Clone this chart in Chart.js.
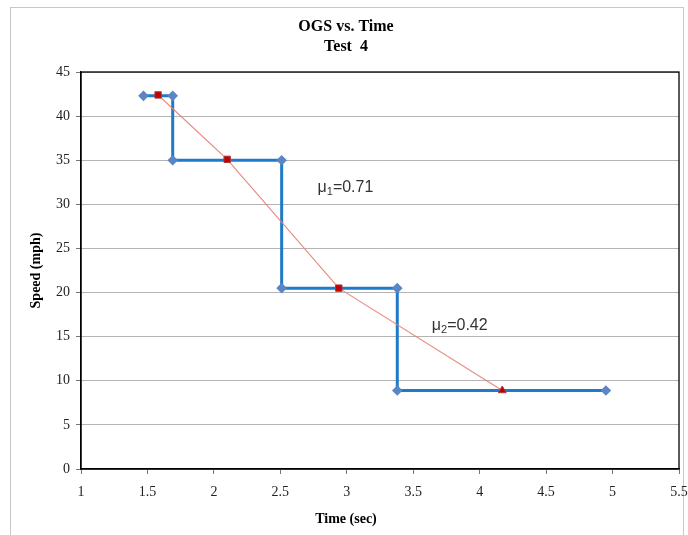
<!DOCTYPE html>
<html>
<head>
<meta charset="utf-8">
<title>OGS vs. Time</title>
<script src="https://cdn.jsdelivr.net/npm/chart.js@4.4.1/dist/chart.umd.min.js"></script>
<style>
  html, body { margin: 0; padding: 0; background: #fff; }
  #wrap { width: 688px; height: 535px; position: relative; }
</style>
</head>
<body>
<div id="wrap"><canvas id="ogsChart" width="688" height="535"></canvas></div>
<script>
// ================= DATA =================
// Stepped speed trace (blue)
const stepTime  = [1.47, 1.69, 1.69, 2.51, 2.51, 3.38, 3.38, 4.95];
const stepSpeed = [42.3, 42.3, 35.0, 35.0, 20.5, 20.5, 8.9, 8.9];
// Midpoint fit (red)
const fitTime  = [1.58, 2.10, 2.94, 4.17];
const fitSpeed = [42.4, 35.1, 20.5, 8.9];
const fitMarkers = ['rect', 'rect', 'rect', 'triangle'];
// Friction notes placed in data space
const noteText = ['0.71', '0.42'];
const noteSub  = ['1', '2'];
const noteTime = [2.78, 3.64];
const noteSpeed = [31.4, 15.8];

const titleLines = ['OGS vs. Time', 'Test  4'];
const xTitle = 'Time (sec)';
const serif = '"Liberation Serif", "Times New Roman", serif';

function toPoints(xs, ys) {
    return xs.map((x, i) => ({ x: x, y: ys[i] }));
}

// ================= PLUGINS =================
// white background, outer frame, titles, plot border and the mu notes
const decorPlugin = {
    id: 'decor',
    beforeDraw(chart) {
        const ctx = chart.ctx;
        ctx.save();
        ctx.fillStyle = '#fff';
        ctx.fillRect(0, 0, chart.width, chart.height);
        ctx.strokeStyle = '#c8c8c8';
        ctx.lineWidth = 1;
        ctx.strokeRect(10.5, 7.5, 673, 540);
        ctx.restore();
    },
    afterDatasetsDraw(chart) {
        const ctx = chart.ctx;
        const a = chart.chartArea;
        ctx.save();
        ctx.strokeStyle = '#000';
        ctx.lineWidth = 1.3;
        ctx.strokeRect(a.left, a.top, a.right - a.left, a.bottom - a.top);

        // chart title + x axis title, centred on the whole frame
        ctx.fillStyle = '#000';
        ctx.textAlign = 'center';
        ctx.textBaseline = 'alphabetic';
        ctx.font = 'bold 16px ' + serif;
        ctx.fillText(titleLines[0], 346, 31);
        ctx.fillText(titleLines[1], 346, 51);
        ctx.font = 'bold 14px ' + serif;
        ctx.fillText(xTitle, 346, 523);

        // mu annotations
        const xs = chart.scales.x, ys = chart.scales.y;
        ctx.textAlign = 'left';
        ctx.fillStyle = '#333';
        noteText.forEach((t, i) => {
            let px = xs.getPixelForValue(noteTime[i]);
            const py = ys.getPixelForValue(noteSpeed[i]);
            ctx.font = '16px "Liberation Sans", Arial, sans-serif';
            ctx.fillText('\u03bc', px, py);
            px += ctx.measureText('\u03bc').width;
            ctx.font = '11px "Liberation Sans", Arial, sans-serif';
            ctx.fillText(noteSub[i], px, py + 3);
            px += ctx.measureText(noteSub[i]).width;
            ctx.font = '16px "Liberation Sans", Arial, sans-serif';
            ctx.fillText('=' + t, px, py);
        });
        ctx.restore();
    }
};

// ================= CHART =================
function initChart() {
    const ctx = document.getElementById('ogsChart').getContext('2d');
    return new Chart(ctx, {
        type: 'scatter',
        data: {
            datasets: [
                {
                    label: 'Fit',
                    data: toPoints(fitTime, fitSpeed),
                    showLine: true,
                    borderColor: 'rgba(228, 128, 118, 0.9)',
                    borderWidth: 1.2,
                    pointStyle: fitMarkers,
                    pointRadius: 4.5,
                    pointBackgroundColor: '#c00000',
                    pointBorderColor: '#a83a3a',
                    pointBorderWidth: 1,
                    order: 0
                },
                {
                    label: 'Speed',
                    data: toPoints(stepTime, stepSpeed),
                    showLine: true,
                    borderColor: '#1f7ac9',
                    borderWidth: 3,
                    pointStyle: 'rectRot',
                    pointRadius: 3.2,
                    pointBackgroundColor: '#5b86c5',
                    pointBorderColor: '#5b86c5',
                    order: 1
                }
            ]
        },
        options: {
            responsive: false,
            animation: false,
            layout: { padding: { top: 72, right: 9, left: 28, bottom: 8 } },
            plugins: {
                legend: { display: false },
                tooltip: { enabled: false }
            },
            scales: {
                x: {
                    type: 'linear',
                    min: 1, max: 5.5,
                    afterFit: s => { s.height = 58; s.paddingLeft = 0; s.paddingRight = 0; },
                    ticks: {
                        stepSize: 0.5,
                        color: '#222',
                        padding: 10,
                        font: { family: serif, size: 14 },
                        callback: v => String(v)
                    },
                    grid: { drawOnChartArea: false, drawTicks: true, tickLength: 5, color: '#777' },
                    border: { display: true, color: '#000', width: 1.3 }
                },
                y: {
                    min: 0, max: 45,
                    afterFit: s => { s.width = 53; s.paddingTop = 0; s.paddingBottom = 0; },
                    ticks: {
                        stepSize: 5,
                        color: '#222',
                        padding: 6,
                        font: { family: serif, size: 14 }
                    },
                    grid: { color: '#b4b4b4', lineWidth: 1, drawTicks: true, tickLength: 5, tickColor: '#777' },
                    border: { display: true, color: '#000', width: 1.3 },
                    title: {
                        display: true,
                        text: 'Speed (mph)',
                        color: '#000',
                        font: { family: serif, size: 14, weight: 'bold' },
                        padding: { top: 0, bottom: 2 }
                    }
                }
            }
        },
        plugins: [decorPlugin]
    });
}

window.onload = function() {
    initChart();
};
</script>
</body>
</html>
